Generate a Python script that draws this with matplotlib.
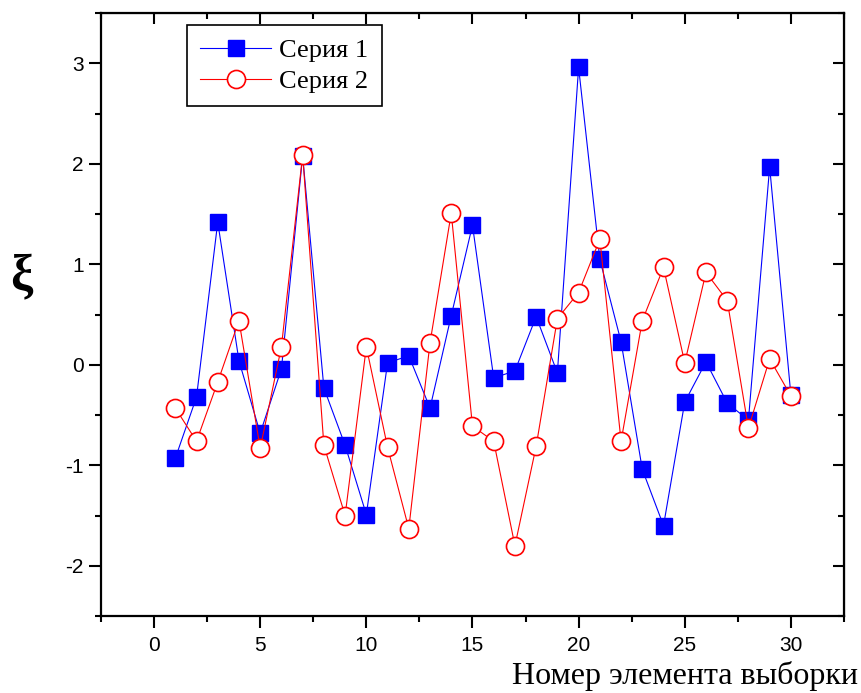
import numpy as np
import matplotlib.pyplot as plt
from matplotlib.ticker import MultipleLocator

plt.rcParams['axes.unicode_minus'] = False

# data
x = list(range(1, 31))
series1 = [-0.93, -0.32, 1.42, 0.04, -0.68, -0.04, 2.08, -0.23, -0.80, -1.49,
           0.02, 0.09, -0.43, 0.49, 1.39, -0.13, -0.06, 0.48, -0.08, 2.96,
           1.05, 0.23, -1.04, -1.60, -0.37, 0.03, -0.38, -0.55, 1.97, -0.30]
series2 = [-0.43, -0.76, -0.17, 0.44, -0.83, 0.18, 2.09, -0.80, -1.50, 0.18,
           -0.82, -1.63, 0.22, 1.51, -0.61, -0.76, -1.80, -0.81, 0.46, 0.72,
           1.25, -0.76, 0.44, 0.97, 0.02, 0.92, 0.64, -0.63, 0.06, -0.31]
labels = ['Серия 1', 'Серия 2']
xlabel = 'Номер элемента выборки'
ylabel = 'ξ'

fig = plt.figure(figsize=(8.61, 6.93), dpi=100)
ax = fig.add_axes([0.1173, 0.111, 0.8629, 0.870])

ax.plot(x, series1, color='blue', lw=0.8, marker='s', ms=12,
        mfc='blue', mec='blue', label=labels[0], zorder=3)
ax.plot(x, series2, color='red', lw=0.8, marker='o', ms=13,
        mfc='white', mec='red', mew=1.2, label=labels[1], zorder=4)

ax.set_xlim(-2.5, 32.5)
ax.set_ylim(-2.5, 3.5)

for s in ax.spines.values():
    s.set_linewidth(1.6)

ax.xaxis.set_major_locator(MultipleLocator(5))
ax.xaxis.set_minor_locator(MultipleLocator(2.5))
ax.yaxis.set_major_locator(MultipleLocator(1))
ax.yaxis.set_minor_locator(MultipleLocator(0.5))
ax.tick_params(which='major', direction='out', length=8.5, width=1.5,
               labelsize=15)
ax.tick_params(which='minor', direction='out', length=4, width=1.5)
ax.tick_params(axis='x', which='major', pad=6)
ax.tick_params(axis='y', which='major', pad=4)
for t in ax.get_xticklabels() + ax.get_yticklabels():
    t.set_fontfamily('Liberation Sans')

# inward ticks on top and right
top = ax.secondary_xaxis('top')
top.xaxis.set_major_locator(MultipleLocator(5))
top.xaxis.set_minor_locator(MultipleLocator(2.5))
top.tick_params(which='major', direction='in', length=8, width=1.5, labeltop=False)
top.tick_params(which='minor', direction='in', length=4, width=1.5)
right = ax.secondary_yaxis('right')
right.yaxis.set_major_locator(MultipleLocator(1))
right.yaxis.set_minor_locator(MultipleLocator(0.5))
right.tick_params(which='major', direction='in', length=8, width=1.5, labelright=False)
right.tick_params(which='minor', direction='in', length=4, width=1.5)

leg = ax.legend(loc='upper left', bbox_to_anchor=(0.1157, 0.980),
                prop={'family': 'Liberation Serif', 'size': 19},
                fancybox=False, framealpha=1, edgecolor='black',
                borderpad=0.5, handlelength=2.7, handletextpad=0.3,
                labelspacing=0.3, borderaxespad=0)
leg.get_frame().set_linewidth(1.2)

fig.text(0.996, 0.013, xlabel, ha='right', va='baseline',
         fontfamily='Liberation Serif', fontsize=23)
fig.text(0.025, 0.60, ylabel, ha='center', va='center',
         fontfamily='Liberation Serif', fontsize=36, fontweight='bold')

fig.savefig('out.png', dpi=100)
